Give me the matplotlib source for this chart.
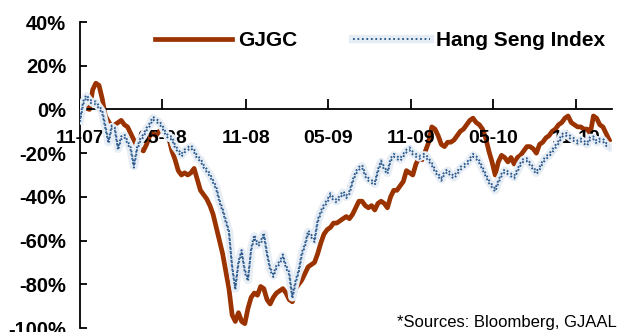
import matplotlib
matplotlib.use("Agg")
import matplotlib.pyplot as plt
import matplotlib.dates as mdates
import matplotlib.transforms as mtransforms
from matplotlib.lines import Line2D
import numpy as np
import pandas as pd

plt.rcParams['font.family'] = ['Liberation Sans', 'DejaVu Sans']

# Weekly observations starting November 2007 (cumulative return, %)
start_date = "2007-11-01"
gjgc = [
    2, 1, 0.5, 0, 9, 12, 11, 5, -3, -5.5, -8, -7, -6, -5, -7, -8, -11, -14, -17, -18,
    -19, -16, -12, -11, -12, -10, -9, -11, -13, -19, -23, -28, -30, -29, -30, -29, -27, -32, -37, -39,
    -41, -44, -48, -54, -60, -66, -74, -82, -94, -97, -93, -97, -98, -91, -86, -84, -85, -81, -82, -87,
    -89, -86, -84, -83, -82, -84, -87, -88, -82, -80, -78, -75, -72, -71, -70, -66, -61, -57, -55, -54,
    -52, -52, -51, -50, -49, -50, -48, -45, -42, -42, -44, -45, -44, -46, -43, -42, -43, -45, -40, -37,
    -37, -35, -33, -28, -29, -30, -25, -22, -23, -19, -15, -8, -9, -12, -16, -17, -15, -15, -14, -12,
    -10, -9, -7, -5, -4, -6, -7, -9, -13, -19, -24, -30, -24, -21, -22, -24, -22, -25, -22, -21,
    -19, -17, -17, -18, -20, -16, -15, -13, -12, -10, -9, -7, -6, -4, -3, -6, -7, -8, -8, -9,
    -9, -11, -3, -4, -7, -8, -11, -14,
]
hang_seng = [
    -5, 3, 6, 4, 3, 3, 1, -1, -8, -15, -8, -9, -18, -13, -12, -15, -18, -26, -18, -14,
    -12, -9, -7, -4, -5, -6, -8, -11, -13, -13, -17, -19, -21, -19, -18, -17, -19, -22, -23, -26,
    -28, -30, -33, -36, -42, -46, -51, -56, -72, -82, -70, -65, -74, -78, -64, -58, -62, -61, -57, -66,
    -73, -76, -72, -70, -67, -72, -75, -86, -79, -74, -66, -62, -56, -58, -60, -51, -47, -44, -42, -39,
    -41, -42, -40, -38, -40, -38, -33, -29, -27, -26, -30, -32, -33, -34, -28, -24, -27, -29, -23, -21,
    -22, -23, -21, -19, -18, -20, -21, -22, -21, -21, -23, -25, -28, -30, -32, -29, -28, -30, -31, -29,
    -27, -26, -25, -23, -21, -22, -24, -27, -30, -33, -35, -37, -33, -30, -28, -29, -30, -31, -28, -25,
    -23, -23, -25, -27, -29, -27, -24, -22, -21, -19, -17, -15, -12, -11, -12, -13, -14, -15, -14, -15,
    -16, -13, -13, -15, -14, -14, -16, -17,
]
series_names = ["GJGC", "Hang Seng Index"]
y_ticks = [-100, -80, -60, -40, -20, 0, 20, 40]
x_tick_dates = ["2007-11-01", "2008-05-01", "2008-11-01", "2009-05-01",
                "2009-11-01", "2010-05-01", "2010-11-01"]
source_note = "*Sources: Bloomberg, GJAAL"

dates = pd.date_range(start_date, periods=len(gjgc), freq="7D")

brown = "#9a3300"
dot_blue = "#2c5a8c"
band = "#e6edf5"

fig = plt.figure(figsize=(6.23, 3.32), dpi=100)
ax = fig.add_axes([80 / 623, 4 / 332, 532 / 623, 306 / 332])

ax.plot(dates, gjgc, color=brown, lw=3.4, solid_joinstyle="round", zorder=2)

# Hang Seng drawn as a pale band carrying two rows of fine dots
hs_band, = ax.plot(dates, hang_seng, color=band, lw=6.0, solid_joinstyle="round", zorder=3)
dot_rows = []
for dy in (-1.4, 1.4):
    tr = mtransforms.offset_copy(ax.transData, fig=fig, x=0, y=dy, units="dots")
    ln, = ax.plot(dates, hang_seng, color=dot_blue, lw=1.4, dashes=(0.9, 1.4),
                  transform=tr, zorder=3.1)
    dot_rows.append(ln)

ax.set_ylim(-100, 40)
ax.set_xlim(pd.Timestamp(start_date), pd.Timestamp("2011-01-19"))
ax.set_yticks(y_ticks)
ax.set_yticklabels([f"{v}%" for v in y_ticks])
ax.set_xticks([pd.Timestamp(d) for d in x_tick_dates])
ax.xaxis.set_major_formatter(mdates.DateFormatter("%m-%y"))

for s in ("top", "right"):
    ax.spines[s].set_visible(False)
ax.spines["bottom"].set_position(("data", 0))
ax.spines["bottom"].set_linewidth(1.3)
ax.spines["left"].set_linewidth(1.3)
ax.set_axisbelow(False)

ax.tick_params(axis="y", direction="in", length=5, width=1.3, pad=10,
               labelsize=14.5)
ax.tick_params(axis="x", direction="in", length=7, width=1.3, pad=15,
               labelsize=14)
for lab in ax.get_xticklabels() + ax.get_yticklabels():
    lab.set_fontweight("bold")

legend_handles = [Line2D([], [], color=brown, lw=3.4),
                  (hs_band, dot_rows[0])]
leg = ax.legend(legend_handles, series_names, ncol=2, frameon=False,
                loc="center right", bbox_to_anchor=(605 / 623, 1 - 41 / 332),
                bbox_transform=fig.transFigure, borderpad=0, borderaxespad=0,
                handlelength=3.7, handletextpad=0.26, columnspacing=2.7,
                prop={"size": 15, "weight": "bold"})

fig.text(397 / 623, 1 - 323 / 332, source_note, fontsize=12, va="center", ha="left")

fig.savefig("out.png", dpi=100)
